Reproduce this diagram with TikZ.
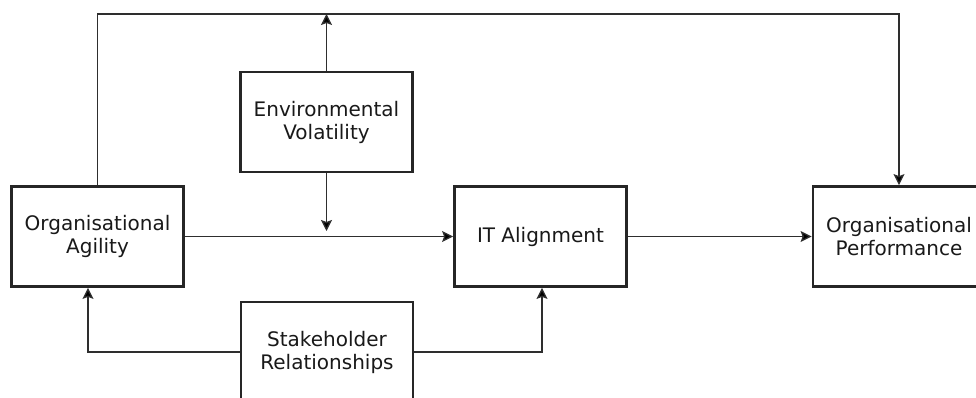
\documentclass[tikz,border=0pt]{standalone}
\usepackage{fontspec}
\setmainfont{DejaVu Sans}
\usetikzlibrary{arrows.meta}
\tikzset{
  factor/.style={draw=black!85, line width=2.8pt, fill=white, rectangle,
    minimum width=172pt, minimum height=100pt, inner sep=0pt,
    align=center, text=black!90,
    font=\fontsize{20}{23}\selectfont},
  link/.style={draw=black!82, line width=1.3pt,
    -{Stealth[length=11pt,width=11pt,inset=2pt,fill=black]}}
}
\begin{document}
\begin{tikzpicture}[x=1pt,y=-1pt]
  \useasboundingbox (0,0) rectangle (976,398);
  \clip (0,0) rectangle (976,398);

  % factors
  \node[factor] (agil) at (97.5,236.5) {Organisational\\Agility};
  \node[factor] (env)  at (326.5,122)  {Environmental\\Volatility};
  \node[factor] (it)   at (540.5,236.5) {IT Alignment};
  \node[factor] (perf) at (899,236.5)  {Organisational\\Performance};
  \node[factor] (stake) at (327,352)   {Stakeholder\\Relationships};

  % helper points
  \coordinate (topline) at (0,14);
  \coordinate (envdown) at (326.5,231);

  % direct effects
  \draw[link] (agil.east) -- (it.west);
  \draw[link] (it.east) -- (perf.west);

  % feedback loop across the top
  \draw[link] (agil.north) -- (agil.north |- topline) -| (perf.north);

  % environmental volatility as moderator
  \draw[link] (env.north) -- (env.north |- topline);
  \draw[link] (env.south) -- (envdown);

  % stakeholder relationships
  \draw[link] (stake.west) -| ([xshift=-9.5pt]agil.south);
  \draw[link] (stake.east) -| ([xshift=1.5pt]it.south);
\end{tikzpicture}
\end{document}
